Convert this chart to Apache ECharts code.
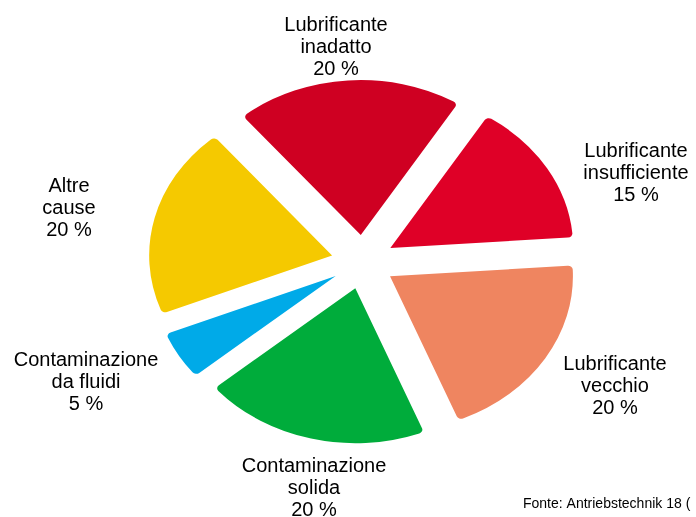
<!DOCTYPE html>
<html>
<head>
<meta charset="utf-8">
<script src="https://cdn.jsdelivr.net/npm/echarts@6/dist/echarts.min.js"></script>
<style>
  html, body { margin: 0; padding: 0; background: #ffffff; }
  #wrap { position: relative; width: 696px; height: 517px; overflow: hidden; }
  #slices { position: absolute; left: 0; top: 0; width: 590px; height: 517px;
            transform-origin: 0 0; transform: scaleX(1.18); }
  #labels { position: absolute; left: 0; top: 0; width: 696px; height: 517px; }
</style>
</head>
<body>
<div id="wrap">
  <div id="slices"></div>
  <div id="labels"></div>
</div>
<script>
// ---- data ----
const categories = ['Lubrificante\ninadatto', 'Lubrificante\ninsufficiente', 'Lubrificante\nvecchio',
                    'Contaminazione\nsolida', 'Contaminazione\nda fluidi', 'Altre\ncause'];
const values = [20, 15, 20, 20, 5, 20];
const sourceText = 'Fonte: Antriebstechnik 18 (';

// ---- styles ----
const colors = ['#CF0022', '#DF0027', '#EF8560', '#00AC3B', '#00AAE8', '#F5C900'];
const labelCenters = [[336, 47], [636, 173], [615, 386], [314, 488], [86, 382], [69, 208]];
const FONT = '"Liberation Sans", Arial, Helvetica, sans-serif';
const STRETCH = 1.18;
const CX = 363, CY = 262, R = 155, OFFSET = 27, START = 130;

// slices (stretched horizontally to give the elliptical look)
const chartA = echarts.init(document.getElementById('slices'), null, { renderer: 'svg' });
chartA.setOption({
  animation: false,
  series: [{
    type: 'pie',
    center: [CX / STRETCH, CY],
    radius: R,
    startAngle: START,
    clockwise: true,
    selectedMode: 'multiple',
    selectedOffset: OFFSET,
    silent: true,
    label: { show: false },
    labelLine: { show: false },
    emphasis: { disabled: true },
    select: { itemStyle: { borderWidth: 0 } },
    itemStyle: { borderWidth: 0, borderRadius: [0, 4] },
    data: categories.map((c, i) => ({
      name: c, value: values[i], selected: true,
      itemStyle: { color: colors[i] }
    }))
  }]
});

// labels (unstretched overlay)
const chartB = echarts.init(document.getElementById('labels'), null, { renderer: 'canvas' });
chartB.setOption({
  animation: false,
  backgroundColor: 'transparent',
  series: [{
    type: 'pie',
    center: [CX, CY],
    radius: R,
    startAngle: START,
    clockwise: true,
    silent: true,
    emphasis: { disabled: true },
    itemStyle: { color: 'rgba(0,0,0,0)', borderWidth: 0 },
    labelLine: { show: false },
    label: {
      show: true,
      position: 'outside',
      formatter: p => p.name + '\n' + p.value + ' %',
      fontFamily: FONT,
      fontSize: 20,
      lineHeight: 22,
      color: '#000000',
      align: 'center'
    },
    labelLayout: p => ({
      x: labelCenters[p.dataIndex][0],
      y: labelCenters[p.dataIndex][1],
      align: 'center',
      verticalAlign: 'middle',
      hideOverlap: false
    }),
    data: categories.map((c, i) => ({ name: c, value: values[i] }))
  }],
  graphic: [{
    type: 'text',
    left: 523,
    top: 497,
    silent: true,
    style: { text: sourceText, fontFamily: FONT, fontSize: 14, fill: '#000000' }
  }]
});
</script>
</body>
</html>
